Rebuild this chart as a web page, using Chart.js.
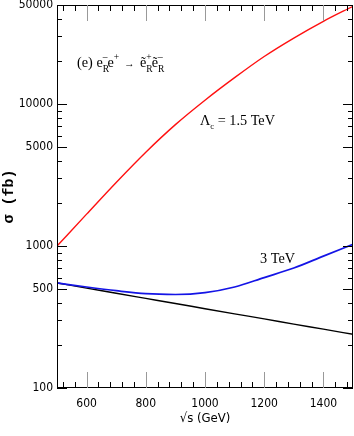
<!DOCTYPE html>
<html lang="en">
<head>
    <meta charset="UTF-8">
    <script src="https://cdn.jsdelivr.net/npm/chart.js"></script>
    <title>sigma vs sqrt(s)</title>
    <style>
        body { margin: 0; background: #fff; }
        #wrap { width: 354px; height: 436px; }
    </style>
</head>
<body>
<div id="wrap"><canvas id="xsecChart"></canvas></div>
<script>
    // sqrt(s) in GeV
    const energies = [500, 600, 700, 800, 900, 1000, 1100, 1200, 1300, 1400, 1500];
    // cross sections in fb
    const sigma15TeV = [1000, 1680, 2810, 4590, 7180, 10670, 15380, 21680, 29240, 38370, 48980];
    const sigma3TeV  = [550, 515, 485, 462, 456, 470, 515, 600, 700, 850, 1030];
    const sigmaSM    = [550, 506, 465, 428, 394, 362, 333, 307, 282, 260, 239];

    const xLabels = [600, 800, 1000, 1200, 1400];
    const yLabels = [100, 500, 1000, 5000, 10000, 50000];
    const yMinor = [200, 300, 400, 600, 700, 800, 900, 2000, 3000, 4000, 6000, 7000, 8000, 9000, 20000, 30000, 40000];

    const narrow = "'Liberation Sans Narrow', 'DejaVu Sans Condensed', sans-serif";
    const serif = "'Liberation Serif', 'DejaVu Serif', serif";

    function toPoints(vals) {
        return energies.map((e, i) => ({ x: e, y: vals[i] }));
    }

    // draws text pieces: [text, dx, dy, size, noAdvance]
    function richText(ctx, x, y, parts, sx) {
        ctx.save();
        ctx.translate(x, y);
        ctx.scale(sx || 1, 1);
        let cx = 0;
        parts.forEach(p => {
            ctx.font = p[3] + 'px ' + serif;
            ctx.fillText(p[0], cx + p[1], p[2]);
            if (!p[4]) cx += p[1] + ctx.measureText(p[0]).width;
        });
        ctx.restore();
    }

    const framePlugin = {
        id: 'frame',
        afterDraw(chart) {
            const ctx = chart.ctx;
            const { left, right, top, bottom } = chart.chartArea;
            const xs = chart.scales.x, ys = chart.scales.y;
            ctx.save();
            ctx.strokeStyle = '#000';
            ctx.lineWidth = 1;
            ctx.strokeRect(left + 0.5, top + 0.5, right - left - 1, bottom - top - 1);

            // x ticks, every 40 GeV, long ones at the labels
            for (let v = 520; v < 1500; v += 40) {
                const px = Math.round(xs.getPixelForValue(v)) + 0.5;
                const major = xLabels.includes(v);
                const len = major ? 16 : 6;
                ctx.strokeStyle = major ? '#999' : '#000';
                ctx.beginPath();
                ctx.moveTo(px, bottom); ctx.lineTo(px, bottom - len);
                ctx.moveTo(px, top); ctx.lineTo(px, top + len);
                ctx.stroke();
            }
            // y ticks
            ctx.strokeStyle = '#000';
            yLabels.concat(yMinor).forEach(v => {
                const py = Math.round(ys.getPixelForValue(v)) + 0.5;
                const len = yLabels.includes(v) ? 10 : 5;
                ctx.beginPath();
                ctx.moveTo(left, py); ctx.lineTo(left + len, py);
                ctx.moveTo(right, py); ctx.lineTo(right - len, py);
                ctx.stroke();
            });

            // labels inside the plot
            ctx.fillStyle = '#000';
            ctx.textBaseline = 'alphabetic';
            richText(ctx, left + 20, top + 62, [
                ['(e) e', 0, 0, 15], ['R', 0, 5, 10, true], ['\u2013', 0, -7, 10],
                ['e', 0, 0, 15], ['+', 0, -7, 10], ['  \u2192  ', 0, 0, 11],
                ['\u1EBD', 0, 0, 15], ['R', 0, 5, 10, true], ['+', 0, -7, 10],
                ['\u1EBD', 0, 0, 15], ['R', 0, 5, 10, true], ['\u2013', 0, -7, 10]
            ], 0.95);
            richText(ctx, left + 143, top + 120, [
                ['\u039B', 0, 0, 15], ['c', 0, 4, 9], [' = 1.5 TeV', 0, 0, 15]
            ], 0.95);
            richText(ctx, left + 203, top + 258, [['3 TeV', 0, 0, 15]], 0.95);
            ctx.restore();
        }
    };

    const config = {
        type: 'line',
        data: {
            datasets: [
                { label: '1.5 TeV', data: toPoints(sigma15TeV), borderColor: '#ff1010', borderWidth: 1.4, pointRadius: 0, fill: false, cubicInterpolationMode: 'monotone' },
                { label: '3 TeV', data: toPoints(sigma3TeV), borderColor: '#1414e6', borderWidth: 1.7, pointRadius: 0, fill: false, cubicInterpolationMode: 'monotone' },
                { label: 'SM', data: toPoints(sigmaSM), borderColor: '#000', borderWidth: 1.4, pointRadius: 0, fill: false, cubicInterpolationMode: 'monotone' }
            ]
        },
        options: {
            responsive: true,
            maintainAspectRatio: false,
            animation: false,
            layout: { padding: { top: 5, right: 1, left: 0, bottom: 0 } },
            plugins: { legend: { display: false }, tooltip: { enabled: false } },
            scales: {
                x: {
                    type: 'linear',
                    min: 500,
                    max: 1500,
                    grid: { display: false, drawTicks: false },
                    border: { display: false },
                    afterBuildTicks: scale => { scale.ticks = xLabels.map(v => ({ value: v })); },
                    afterFit: scale => { scale.height = 48; scale.paddingLeft = 0; scale.paddingRight = 0; },
                    ticks: { color: '#000', padding: 9, maxRotation: 0, autoSkip: false, font: { family: narrow, size: 12 },
                        callback: v => String(v) },
                    title: { display: true, text: '\u221As (GeV)', color: '#000', padding: { top: 0, bottom: 10 }, font: { family: narrow, size: 13 } }
                },
                y: {
                    type: 'logarithmic',
                    min: 100,
                    max: 50000,
                    grid: { display: false, drawTicks: false },
                    border: { display: false },
                    afterBuildTicks: scale => { scale.ticks = yLabels.map(v => ({ value: v })); },
                    afterFit: scale => { scale.width = 57; scale.paddingTop = 0; scale.paddingBottom = 0; },
                    ticks: { color: '#000', padding: 4, autoSkip: false, font: { family: narrow, size: 12 },
                        callback: v => String(v) },
                    title: { display: true, text: '\u03C3 (fb)', color: '#000', padding: { top: 0, bottom: 0 }, font: { family: "'Liberation Mono', monospace", size: 15, weight: 'bold' } }
                }
            }
        },
        plugins: [framePlugin]
    };

    new Chart(document.getElementById('xsecChart'), config);
</script>
</body>
</html>
